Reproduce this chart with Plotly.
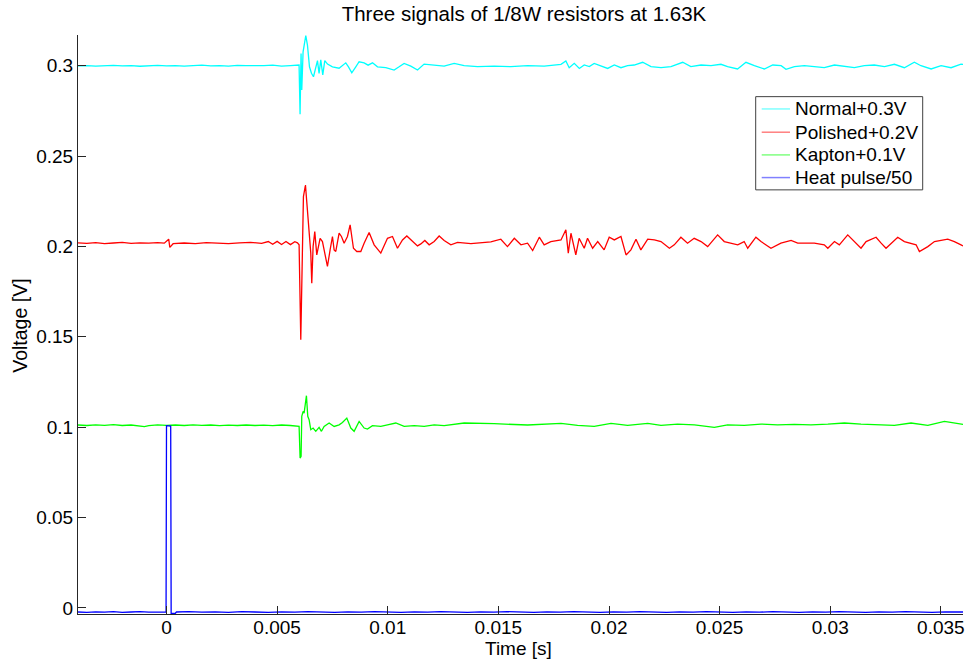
import plotly.graph_objects as go

# ---------------- data ----------------
x_tickvals = [0, 0.005, 0.01, 0.015, 0.02, 0.025, 0.03, 0.035]
x_ticktext = ["0", "0.005", "0.01", "0.015", "0.02", "0.025", "0.03", "0.035"]
y_tickvals = [0, 0.05, 0.1, 0.15, 0.2, 0.25, 0.3]
y_ticktext = ["0", "0.05", "0.1", "0.15", "0.2", "0.25", "0.3"]

series_names = ["Normal+0.3V", "Polished+0.2V", "Kapton+0.1V", "Heat pulse/50"]

# Normal + 0.3 V (cyan)
t_normal = [-0.0040, -0.0036, -0.0032, -0.0028, -0.0024, -0.0020, -0.0016, -0.0012, -0.0008, -0.0004,
            0.0000, 0.0004, 0.0008, 0.0012, 0.0016, 0.0020, 0.0024, 0.0028, 0.0032, 0.0036,
            0.0040, 0.0044, 0.0048, 0.0052, 0.0056, 0.005919, 0.005992, 0.006037, 0.006082, 0.006114,
            0.006173, 0.006295, 0.006371, 0.006462, 0.006552, 0.006643, 0.006715, 0.006824, 0.006896, 0.006973,
            0.007063, 0.007154, 0.007276, 0.007502, 0.007800, 0.008103, 0.008225, 0.008375, 0.008556, 0.008705,
            0.008931, 0.009112, 0.009311, 0.009537, 0.009912, 0.010288, 0.010514, 0.010740, 0.011043, 0.011346,
            0.011644, 0.012096, 0.012548, 0.013001, 0.013453, 0.01406, 0.01481, 0.01556, 0.01632, 0.01707,
            0.01783, 0.01805, 0.01820, 0.01843, 0.01866, 0.01888, 0.01911, 0.01933, 0.01964, 0.01994,
            0.02024, 0.02054, 0.02084, 0.02114, 0.02152, 0.02190, 0.02235, 0.02280, 0.02333, 0.02370,
            0.02416, 0.02461, 0.02506, 0.02536, 0.02581, 0.02619, 0.02657, 0.02702, 0.02740, 0.02778,
            0.02800, 0.02838, 0.02883, 0.02928, 0.02973, 0.03019, 0.03064, 0.03109, 0.03154, 0.03199,
            0.03245, 0.03290, 0.03335, 0.03380, 0.03410, 0.03456, 0.03501, 0.03546, 0.03591, 0.0360]
v_normal = [0.2999, 0.3001, 0.2998, 0.3000, 0.3002, 0.2999, 0.3001, 0.2997, 0.3000, 0.3002,
            0.2999, 0.3001, 0.2998, 0.3000, 0.3003, 0.2999, 0.3001, 0.2998, 0.3002, 0.3000,
            0.2999, 0.3001, 0.3003, 0.2998, 0.3001, 0.3004, 0.3004, 0.2731, 0.3068, 0.2866,
            0.3077, 0.3166, 0.3114, 0.2994, 0.2958, 0.2939, 0.2976, 0.3028, 0.2958, 0.3032,
            0.2949, 0.3028, 0.3009, 0.2994, 0.2986, 0.3016, 0.2994, 0.2961, 0.2994, 0.3022,
            0.3016, 0.3003, 0.3016, 0.2994, 0.2990, 0.2976, 0.2994, 0.3013, 0.2998, 0.2976,
            0.3009, 0.3003, 0.2998, 0.3013, 0.3000, 0.2995, 0.2998, 0.2995, 0.3000, 0.2998,
            0.3008, 0.3026, 0.2989, 0.3013, 0.2985, 0.3004, 0.2995, 0.3013, 0.3000, 0.2985,
            0.3004, 0.2989, 0.3000, 0.3004, 0.3019, 0.2995, 0.2989, 0.2995, 0.3019, 0.2995,
            0.3004, 0.3000, 0.3008, 0.2995, 0.2982, 0.3019, 0.3000, 0.2982, 0.3004, 0.3000,
            0.2980, 0.2995, 0.3000, 0.2995, 0.2989, 0.3004, 0.2995, 0.2989, 0.3000, 0.3004,
            0.2995, 0.3008, 0.2989, 0.3019, 0.3000, 0.2982, 0.3000, 0.2989, 0.3009, 0.3007]

# Polished + 0.2 V (red)
t_polished = [-0.0040, -0.0036, -0.0032, -0.0028, -0.0024, -0.0020, -0.0016, -0.0012, -0.0008, -0.0004,
              -0.0001, 0.0001, 0.00015, 0.0003, 0.0008, 0.0013, 0.0018, 0.0023, 0.0028, 0.0033,
              0.0038, 0.0043, 0.0046, 0.0048, 0.0050, 0.0052, 0.0054, 0.0056, 0.0058, 0.005918,
              0.005993, 0.006069, 0.006144, 0.006189, 0.006280, 0.006370, 0.006461, 0.006521, 0.006566, 0.006626,
              0.006702, 0.006792, 0.006943, 0.007048, 0.007124, 0.007274, 0.007395, 0.007501, 0.007576, 0.007651,
              0.007802, 0.007908, 0.008028, 0.008179, 0.008299, 0.008450, 0.008601, 0.008782, 0.008932, 0.009158,
              0.009385, 0.009686, 0.009988, 0.010214, 0.010440, 0.010666, 0.010862, 0.011118, 0.011344, 0.011495,
              0.011676, 0.011872, 0.012098, 0.012324, 0.012550, 0.012852, 0.013153, 0.01376, 0.01421, 0.01466,
              0.01511, 0.01541, 0.01572, 0.01602, 0.01632, 0.01655, 0.01685, 0.01707, 0.01737, 0.01783,
              0.01805, 0.01816, 0.01828, 0.01850, 0.01865, 0.01888, 0.01903, 0.01926, 0.01949, 0.01978,
              0.02001, 0.02024, 0.02054, 0.02077, 0.02099, 0.02122, 0.02144, 0.02175, 0.02205, 0.02235,
              0.02273, 0.02295, 0.02325, 0.02355, 0.02385, 0.02416, 0.02446, 0.02491, 0.02521, 0.02551,
              0.02582, 0.02611, 0.02627, 0.02664, 0.02687, 0.02732, 0.02777, 0.02823, 0.02853, 0.02883,
              0.02928, 0.02973, 0.02989, 0.03019, 0.03041, 0.03079, 0.03109, 0.03139, 0.03162, 0.03207,
              0.03230, 0.03252, 0.03305, 0.03335, 0.03388, 0.03403, 0.03441, 0.03471, 0.03531, 0.03561,
              0.03591, 0.0360]
v_polished = [0.2020, 0.2017, 0.2021, 0.2016, 0.2019, 0.2022, 0.2017, 0.2020, 0.2018, 0.2021,
              0.2018, 0.2040, 0.1995, 0.2015, 0.2019, 0.2016, 0.2021, 0.2018, 0.2015, 0.2020,
              0.2023, 0.2017, 0.2027, 0.2012, 0.2028, 0.2011, 0.2027, 0.2010, 0.2026, 0.2020,
              0.2009, 0.1483, 0.2055, 0.2276, 0.2340, 0.2202, 0.2055, 0.1963, 0.1797, 0.1999,
              0.2082, 0.1953, 0.2045, 0.2027, 0.1981, 0.1889, 0.1981, 0.2055, 0.1981, 0.1972,
              0.2073, 0.2055, 0.2018, 0.2055, 0.2119, 0.1990, 0.1972, 0.1972, 0.2018, 0.2077,
              0.2009, 0.1963, 0.2045, 0.2055, 0.1990, 0.2036, 0.2058, 0.2027, 0.2003, 0.2014,
              0.2033, 0.2009, 0.2027, 0.2058, 0.2033, 0.2009, 0.2022, 0.2015, 0.2022, 0.2025,
              0.2040, 0.1999, 0.2045, 0.2009, 0.2018, 0.1977, 0.2051, 0.2009, 0.2027, 0.2036,
              0.2092, 0.1963, 0.2073, 0.1953, 0.2045, 0.1990, 0.2045, 0.1990, 0.2027, 0.1981,
              0.2051, 0.2036, 0.2055, 0.1953, 0.1981, 0.2040, 0.1981, 0.2040, 0.2036, 0.2027,
              0.1990, 0.2009, 0.2051, 0.2018, 0.2045, 0.2027, 0.1999, 0.2064, 0.2027, 0.2018,
              0.2009, 0.2027, 0.1990, 0.2051, 0.2027, 0.1990, 0.2018, 0.2033, 0.2018, 0.2018,
              0.2018, 0.2009, 0.1990, 0.2027, 0.2009, 0.2064, 0.2027, 0.1990, 0.2027, 0.2051,
              0.2018, 0.1990, 0.2051, 0.2027, 0.2009, 0.1972, 0.1999, 0.2027, 0.2040, 0.2027,
              0.2009, 0.2003]

# Kapton + 0.1 V (green)
t_kapton = [-0.0040, -0.0036, -0.0032, -0.0028, -0.0024, -0.0020, -0.0016, -0.0012, -0.0010, -0.0008,
            -0.0004, 0.0000, 0.0004, 0.0008, 0.0012, 0.0016, 0.0020, 0.0024, 0.0028, 0.0032,
            0.0036, 0.0040, 0.0044, 0.0048, 0.0052, 0.0056, 0.005918, 0.005993, 0.006038, 0.006083,
            0.006114, 0.006174, 0.006219, 0.006325, 0.006385, 0.006445, 0.006521, 0.006626, 0.006747, 0.006897,
            0.007003, 0.007124, 0.007350, 0.007576, 0.007802, 0.007953, 0.008149, 0.008330, 0.008480, 0.008706,
            0.008932, 0.009083, 0.009309, 0.009686, 0.009988, 0.010364, 0.010741, 0.011193, 0.011646, 0.012098,
            0.012550, 0.013002, 0.013454, 0.01481, 0.01632, 0.01783, 0.01858, 0.01933, 0.02009, 0.02084,
            0.02175, 0.02235, 0.02310, 0.02386, 0.02476, 0.02536, 0.02611, 0.02687, 0.02762, 0.02838,
            0.02913, 0.02989, 0.03064, 0.03139, 0.03215, 0.03290, 0.03365, 0.03441, 0.03516, 0.03561,
            0.03591, 0.0360]
v_kapton = [0.1012, 0.1009, 0.1013, 0.1010, 0.1014, 0.1009, 0.1012, 0.1008, 0.1003, 0.1009,
            0.1013, 0.1010, 0.1012, 0.1009, 0.1013, 0.1010, 0.1012, 0.1008, 0.1011, 0.1009,
            0.1012, 0.1009, 0.1011, 0.1008, 0.1012, 0.1009, 0.1008, 0.1004, 0.0829, 0.0838,
            0.1060, 0.1087, 0.1078, 0.1174, 0.1060, 0.1041, 0.0986, 0.0995, 0.0977, 0.0999,
            0.0977, 0.1004, 0.1023, 0.1004, 0.1013, 0.1026, 0.1050, 0.0995, 0.0977, 0.1032,
            0.0995, 0.0989, 0.1008, 0.1004, 0.1013, 0.1023, 0.1004, 0.1008, 0.1004, 0.1013,
            0.1008, 0.1017, 0.1023, 0.1019, 0.1012, 0.1021, 0.1010, 0.1004, 0.1021, 0.1010,
            0.1021, 0.1010, 0.1017, 0.1013, 0.0999, 0.1013, 0.1010, 0.1017, 0.1013, 0.1015,
            0.1013, 0.1017, 0.1023, 0.1017, 0.1013, 0.1010, 0.1023, 0.1010, 0.1032, 0.1023,
            0.1013, 0.1015]

# Heat pulse / 50 (blue)
t_pulse = [-0.0040, -0.0036, -0.0032, -0.0028, -0.0024, -0.0020, -0.0016, -0.0012, -0.0008, -0.0004,
           -0.00002, 0.0000, 0.00019, 0.00021, 0.00040, 0.00045, 0.0010, 0.0016, 0.0022, 0.0028,
           0.0034, 0.0040, 0.0046, 0.0052, 0.0058, 0.0064, 0.0070, 0.0076, 0.0082, 0.0088,
           0.0094, 0.0100, 0.0106, 0.0112, 0.0118, 0.0124, 0.0130, 0.0136, 0.0142, 0.0148,
           0.0154, 0.0160, 0.0166, 0.0172, 0.0178, 0.0184, 0.0190, 0.0196, 0.0202, 0.0208,
           0.0214, 0.0220, 0.0226, 0.0232, 0.0238, 0.0244, 0.0250, 0.0256, 0.0262, 0.0268,
           0.0274, 0.0280, 0.0286, 0.0292, 0.0298, 0.0304, 0.0310, 0.0316, 0.0322, 0.0328,
           0.0334, 0.0340, 0.0346, 0.0352, 0.0358, 0.0360]
v_pulse = [-0.0023, -0.0025, -0.0022, -0.0024, -0.0021, -0.0025, -0.0023, -0.0021, -0.0024, -0.0022,
           -0.0024, 0.1008, 0.1006, -0.0030, -0.0030, -0.0023, -0.0021, -0.0024, -0.0022, -0.0025,
           -0.0021, -0.0023, -0.0025, -0.0022, -0.0024, -0.0021, -0.0023, -0.0025, -0.0022, -0.0024,
           -0.0021, -0.0023, -0.0025, -0.0022, -0.0024, -0.0021, -0.0023, -0.0025, -0.0022, -0.0024,
           -0.0021, -0.0023, -0.0025, -0.0022, -0.0024, -0.0021, -0.0023, -0.0025, -0.0022, -0.0024,
           -0.0021, -0.0023, -0.0025, -0.0022, -0.0024, -0.0021, -0.0023, -0.0025, -0.0022, -0.0024,
           -0.0021, -0.0023, -0.0025, -0.0022, -0.0024, -0.0021, -0.0023, -0.0025, -0.0022, -0.0024,
           -0.0021, -0.0023, -0.0025, -0.0022, -0.0024, -0.0023]

colors = ["#00FFFF", "#FF0000", "#00FF00", "#0000FF"]
legend_colors = ["#80FFFF", "#FF8080", "#80FF80", "#8080FF"]

# ---------------- figure ----------------
FONT = "Liberation Sans, Arial, Helvetica, sans-serif"
fig = go.Figure()
for name, t, v, c in zip(series_names,
                         [t_normal, t_polished, t_kapton, t_pulse],
                         [v_normal, v_polished, v_kapton, v_pulse],
                         colors):
    fig.add_trace(go.Scatter(x=t, y=v, mode="lines", name=name,
                             line=dict(color=c, width=1.3), showlegend=False))

axis_common = dict(showline=True, linecolor="#262626", linewidth=1,
                   ticks="inside", ticklen=8, tickcolor="#262626", tickwidth=1,
                   showgrid=False, zeroline=False, mirror=False, automargin=False,
                   tickfont=dict(family=FONT, size=19, color="#000000"))

fig.update_layout(
    width=965, height=659, autosize=False,
    margin=dict(l=78, r=2, t=35, b=45),
    paper_bgcolor="white", plot_bgcolor="white",
    font=dict(family=FONT, size=19, color="#000000"),
    title=dict(text="Three signals of 1/8W resistors at 1.63K",
               x=524 / 965, xanchor="center", y=1 - 14 / 659, yanchor="middle",
               font=dict(family=FONT, size=20.5, color="#000000")),
    xaxis=dict(range=[-0.004, 0.036], tickvals=x_tickvals, ticktext=x_ticktext,
               ticklabelstandoff=-4, **axis_common),
    yaxis=dict(range=[-0.0034, 0.317], tickvals=y_tickvals, ticktext=y_ticktext,
               **axis_common),
    showlegend=False,
)

# axis titles
fig.add_annotation(text="Time [s]", xref="paper", yref="paper",
                   x=(518 - 78) / 885, y=(614.5 - 649) / 579.5,
                   xanchor="center", yanchor="middle", showarrow=False,
                   font=dict(family=FONT, size=19, color="#000000"))
fig.add_annotation(text="Voltage [V]", xref="paper", yref="paper",
                   x=(20 - 78) / 885, y=(614.5 - 326) / 579.5, textangle=-90,
                   xanchor="center", yanchor="middle", showarrow=False,
                   font=dict(family=FONT, size=19.5, color="#000000"))

# legend box drawn to match the reference
def px_x(p):
    return (p - 78) / 885

def px_y(p):
    return (614.5 - p) / 579.5

fig.add_shape(type="rect", xref="paper", yref="paper",
              x0=px_x(755.7), x1=px_x(922.7), y0=px_y(190), y1=px_y(96.7),
              line=dict(color="#404040", width=1), fillcolor="white", layer="above")
row_y = [109, 132.3, 155, 177.7]
for name, lc, ry in zip(series_names, legend_colors, row_y):
    fig.add_shape(type="line", xref="paper", yref="paper",
                  x0=px_x(761.7), x1=px_x(790), y0=px_y(ry), y1=px_y(ry),
                  line=dict(color=lc, width=1.5), layer="above")
    fig.add_annotation(text=name, xref="paper", yref="paper",
                       x=px_x(792.5), y=px_y(ry), xanchor="left", yanchor="middle",
                       showarrow=False,
                       font=dict(family=FONT, size=19, color="#000000"))

# remove the default 8px page margin so the figure sits at the window's corner
fig.write_html("out.html", config={"displayModeBar": False},
               post_script="document.body.style.margin='0';")
